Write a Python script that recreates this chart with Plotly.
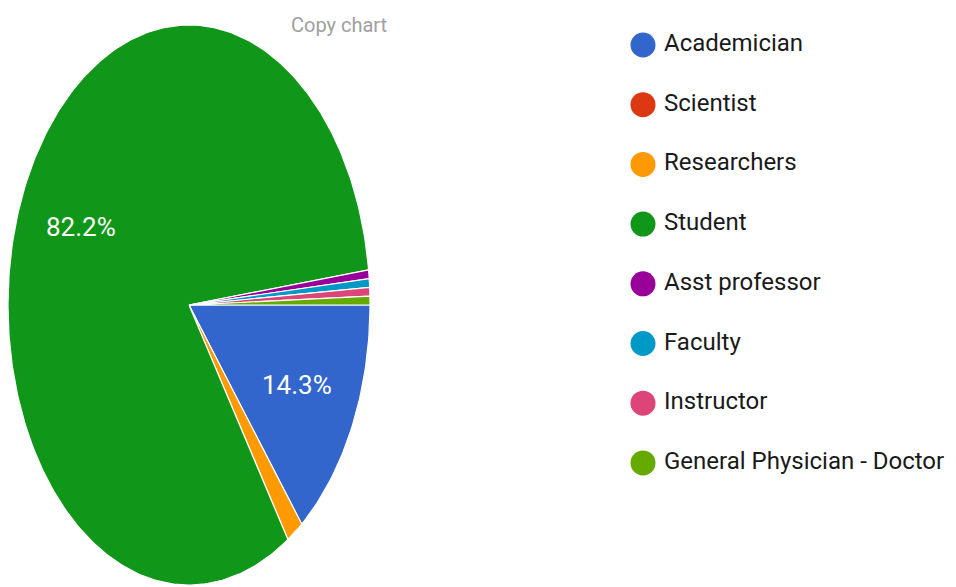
import numpy as np
import plotly.graph_objects as go

categories = ["Academician", "Scientist", "Researchers", "Student",
              "Asst professor", "Faculty", "Instructor", "General Physician - Doctor"]
percent = [14.3, 0.0, 1.5, 82.2, 0.5, 0.5, 0.5, 0.5]
colors = ["#3366cc", "#dc3912", "#ff9900", "#109618",
          "#990099", "#0099c6", "#dd4477", "#66aa00"]
label_min = 5.0  # only label slices at least this big

FONT = "Roboto, Liberation Sans, Arial, sans-serif"
OFF = 8                      # page body margin
W, H = 956 - OFF, 587 - OFF  # figure size that fits the window


def px(x):  # reference pixel x -> paper fraction
    return (x - OFF) / W


def py(y):  # reference pixel y (from top) -> paper fraction
    return 1 - (y - OFF) / H


fig = go.Figure()

total = sum(percent)
cum = 0.0
annotations = []
for name, val, col in zip(categories, percent, colors):
    if val <= 0:
        continue
    f0 = cum / total
    f1 = (cum + val) / total
    cum += val
    n = max(4, int(np.ceil((f1 - f0) * 400)))
    th = -2 * np.pi * np.linspace(f0, f1, n)
    xs = np.concatenate([[0.0], np.cos(th), [0.0]])
    ys = np.concatenate([[0.0], np.sin(th), [0.0]])
    fig.add_trace(go.Scatter(
        x=xs, y=ys, mode="lines", fill="toself", fillcolor=col,
        line=dict(color="white", width=1.2), showlegend=False,
        hoverinfo="text", text=f"{name}: {val}%", xaxis="x", yaxis="y"))
    if val >= label_min:
        tm = -2 * np.pi * (f0 + f1) / 2
        annotations.append(dict(
            x=0.66 * np.cos(tm), y=0.66 * np.sin(tm), xref="x", yref="y",
            text=f"{val:.1f}%", showarrow=False,
            font=dict(family=FONT, size=26, color="white")))

# Legend drawn on its own axes
idx = list(range(len(categories)))
LX0 = 620
fig.add_trace(go.Scatter(
    x=[643 - LX0] * len(categories), y=idx, mode="markers",
    marker=dict(size=25, color=colors, line=dict(width=0)),
    showlegend=False, hoverinfo="skip", xaxis="x2", yaxis="y2"))
fig.add_trace(go.Scatter(
    x=[664 - LX0] * len(categories), y=idx, mode="text", text=categories,
    textposition="middle right", cliponaxis=False,
    textfont=dict(family=FONT, size=24, color="#1a1a1a"),
    showlegend=False, hoverinfo="skip", xaxis="x2", yaxis="y2"))

annotations.append(dict(
    x=px(339), y=py(25), xref="paper", yref="paper", text="Copy chart",
    xanchor="center", yanchor="middle",
    showarrow=False, font=dict(family=FONT, size=20, color="#a0a0a0")))

step = 59.7
y0 = 45 - OFF
fig.update_layout(
    width=W, height=H, margin=dict(l=0, r=0, t=0, b=0),
    paper_bgcolor="white", plot_bgcolor="white",
    xaxis=dict(domain=[px(8), px(370)], range=[-1, 1], visible=False, fixedrange=True),
    yaxis=dict(domain=[py(585), py(25)], range=[-1, 1], visible=False, fixedrange=True),
    xaxis2=dict(domain=[px(LX0), 1.0], range=[0, W - (LX0 - OFF)], visible=False,
                anchor="y2", fixedrange=True),
    yaxis2=dict(domain=[0, 1], range=[(H - y0) / step, -y0 / step], visible=False,
                anchor="x2", fixedrange=True),
    annotations=annotations, showlegend=False,
)

fig.write_html("out.html")
